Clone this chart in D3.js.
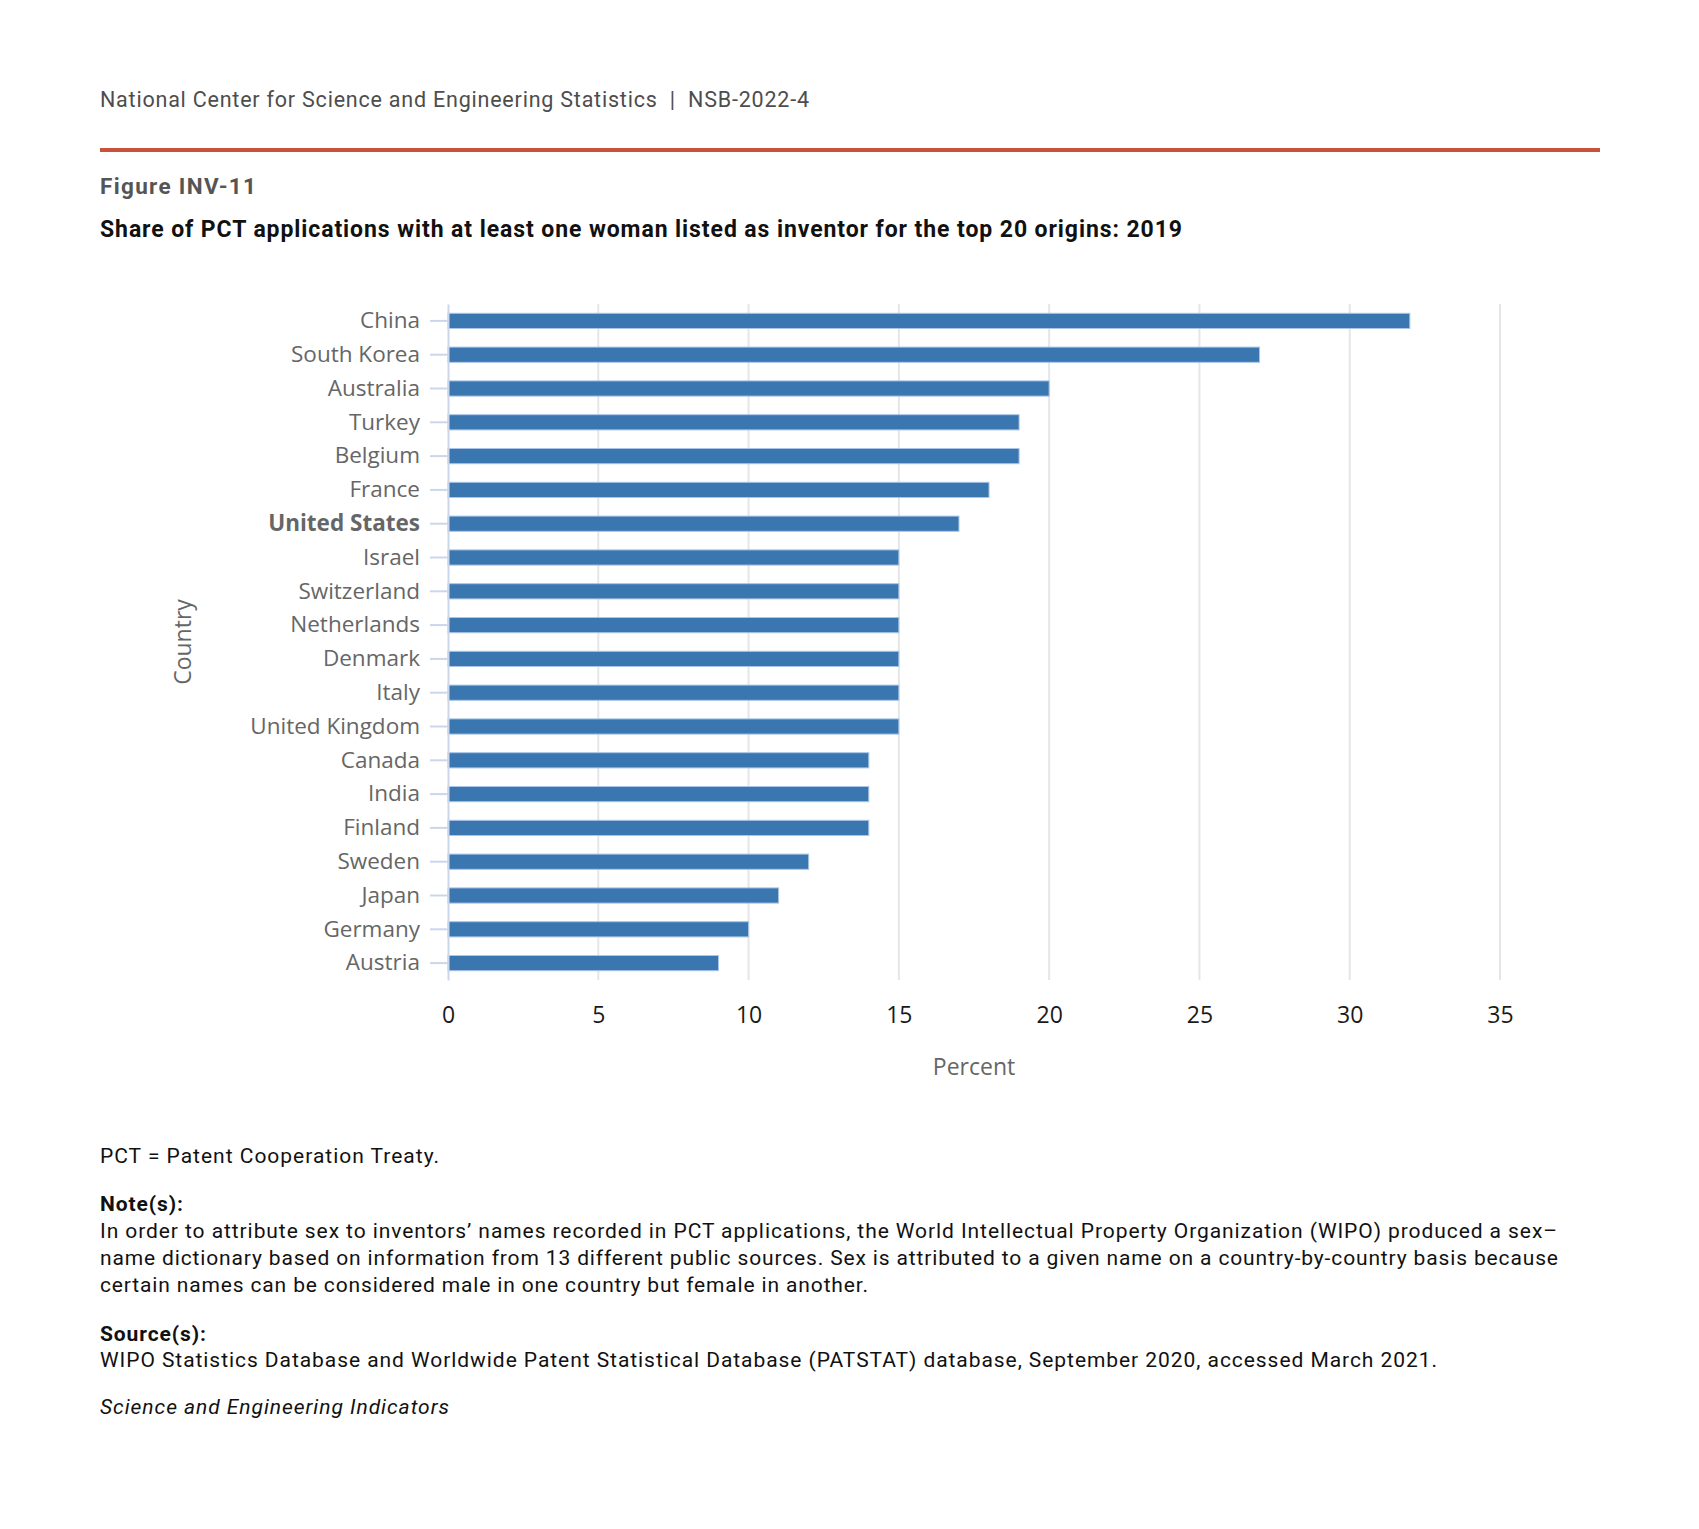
<!DOCTYPE html>
<html>
<head>
<meta charset="utf-8">
<script src="https://cdn.jsdelivr.net/npm/d3@7"></script>
<style>
  body { margin: 0; background: #fff; }
  text { white-space: pre; }
</style>
</head>
<body>
<div id="viz"></div>
<script>
//==============================================================================
// Data
var countries = ["China", "South Korea", "Australia", "Turkey", "Belgium", "France",
  "United States", "Israel", "Switzerland", "Netherlands", "Denmark", "Italy",
  "United Kingdom", "Canada", "India", "Finland", "Sweden", "Japan", "Germany", "Austria"];
var percents = [32, 27, 20, 19, 19, 18, 17, 15, 15, 15, 15, 15, 15, 14, 14, 14, 12, 11, 10, 9];
var x_ticks = [0, 5, 10, 15, 20, 25, 30, 35];
var highlight = "United States";

var note_lines = [
  "In order to attribute sex to inventors\u2019 names recorded in PCT applications, the World Intellectual Property Organization (WIPO) produced a sex\u2013",
  "name dictionary based on information from 13 different public sources. Sex is attributed to a given name on a country-by-country basis because",
  "certain names can be considered male in one country but female in another."
];
var note_widths = [1457, 1458, 768];

//==============================================================================
// Initial variables
var width = 1699;
var height = 1529;
var left = 100;
var plot = {x0: 448, x1: 1500, y0: 304, y1: 980};
var bar_color = "#3a76b0";

var svg = d3.select("#viz")
  .append("svg")
  .attr("width", width)
  .attr("height", height);

svg.append("rect").attr("width", width).attr("height", height).attr("fill", "#fff");

// helper: put a line of text, stretched to the width
var put_text = function(g, x, y, str, len) {
  var t = g.append("text").attr("x", x).attr("y", y).text(str);
  if (len) t.attr("textLength", len).attr("lengthAdjust", "spacing");
  return t;
}

//==============================================================================
// Header
put_text(svg, left, 107, "National Center for Science and Engineering Statistics  |  NSB-2022-4", 709)
  .attr("font-family", "Roboto").attr("font-size", 21.5).attr("fill", "#4d4d4d");

svg.append("rect")
  .attr("x", left).attr("y", 148)
  .attr("width", 1500).attr("height", 4)
  .attr("fill", "#c9523a");

put_text(svg, left, 194, "Figure INV-11", 156)
  .attr("font-family", "Roboto").attr("font-weight", "bold")
  .attr("font-size", 22.5).attr("fill", "#555");

put_text(svg, left, 237, "Share of PCT applications with at least one woman listed as inventor for the top 20 origins: 2019", 1082)
  .attr("font-family", "Roboto").attr("font-weight", "bold")
  .attr("font-size", 23).attr("fill", "#111");

//==============================================================================
// Scales
var xScale = d3.scaleLinear()
  .domain([0, 35])
  .range([plot.x0, plot.x1]);

var yScale = d3.scaleBand()
  .domain(countries)
  .range([plot.y0, plot.y1])
  .paddingInner(0.55)
  .paddingOuter(0.275);

// Grid lines
svg.append("g")
  .attr("class", "grid")
  .selectAll("line")
  .data(x_ticks.filter(function(d) { return d > 0; }))
  .enter().append("line")
  .attr("x1", function(d) { return xScale(d); })
  .attr("x2", function(d) { return xScale(d); })
  .attr("y1", plot.y0)
  .attr("y2", plot.y1)
  .attr("stroke", "#e6e6e6")
  .attr("stroke-width", 2);

// X axis (labels only)
var xAxis = d3.axisBottom(xScale)
  .tickValues(x_ticks)
  .tickSize(0)
  .tickPadding(27);

var xg = svg.append("g")
  .attr("transform", "translate(0," + plot.y1 + ")")
  .call(xAxis);
xg.select(".domain").remove();
xg.selectAll("text")
  .attr("font-family", "Open Sans").attr("font-size", 23).attr("fill", "#1a1a1a");

// Bars
svg.append("g")
  .attr("class", "bars")
  .selectAll("rect")
  .data(countries)
  .enter().append("rect")
  .attr("x", xScale(0))
  .attr("y", function(d) { return yScale(d); })
  .attr("width", function(d, i) { return xScale(percents[i]) - xScale(0); })
  .attr("height", yScale.bandwidth())
  .attr("fill", bar_color)
  .attr("stroke", "#a9c6e8")
  .attr("stroke-width", 1);

// Y axis
var yAxis = d3.axisLeft(yScale)
  .tickSize(18)
  .tickSizeOuter(0)
  .tickPadding(10);

var yg = svg.append("g")
  .attr("transform", "translate(" + plot.x0 + ",0)")
  .call(yAxis);
yg.select(".domain").attr("stroke", "#ccd6eb").attr("stroke-width", 2);
yg.selectAll(".tick line").attr("stroke", "#ccd6eb").attr("stroke-width", 2);
yg.selectAll("text")
  .attr("font-family", "Open Sans").attr("font-size", 22.5).attr("fill", "#666")
  .attr("font-weight", function(d) { return d === highlight ? "bold" : "normal"; });

// Axis titles
svg.append("text")
  .attr("transform", "translate(183," + ((plot.y0 + plot.y1) / 2) + ") rotate(-90)")
  .attr("dy", "0.35em")
  .attr("text-anchor", "middle")
  .attr("font-family", "Open Sans").attr("font-size", 23).attr("fill", "#666")
  .text("Country");

svg.append("text")
  .attr("x", (plot.x0 + plot.x1) / 2).attr("y", 1075)
  .attr("text-anchor", "middle")
  .attr("font-family", "Open Sans").attr("font-size", 23).attr("fill", "#666")
  .text("Percent");

//==============================================================================
// Notes
var notes = svg.append("g")
  .attr("font-family", "Roboto").attr("font-size", 21).attr("fill", "#111");

put_text(notes, left, 1163, "PCT = Patent Cooperation Treaty.", 339);

put_text(notes, left, 1211, "Note(s):", 83).attr("font-weight", "bold");

note_lines.forEach(function(d, i) {
  put_text(notes, left, 1238 + i * 27, d, note_widths[i]);
});

put_text(notes, left, 1341, "Source(s):", 106).attr("font-weight", "bold");

put_text(notes, left, 1367, "WIPO Statistics Database and Worldwide Patent Statistical Database (PATSTAT) database, September 2020, accessed March 2021.", 1337);

put_text(notes, left, 1414, "Science and Engineering Indicators", 349).attr("font-style", "italic");
</script>
</body>
</html>
